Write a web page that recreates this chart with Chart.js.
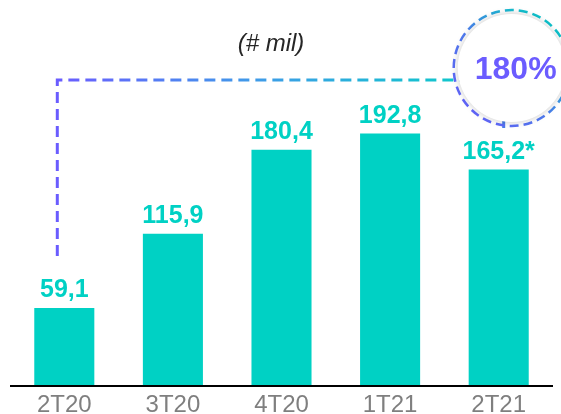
<!DOCTYPE html>
<html>
<head>
<meta charset="utf-8">
<script src="https://cdn.jsdelivr.net/npm/chart.js@4"></script>
<style>
  html, body { margin: 0; padding: 0; background: #fff; }
  #wrap { width: 561px; height: 414px; }
</style>
</head>
<body>
<div id="wrap"><canvas id="basesChart" width="561" height="414"></canvas></div>
<script>
const quarters = ['2T20', '3T20', '4T20', '1T21', '2T21'];
const bases = [59.1, 115.9, 180.4, 192.8, 165.2];
const notes = ['', '', '', '', '*'];
const unitLabel = '(# mil)';

const TEAL = '#00d1c4';
const PURPLE = '#6b5cff';
const FONT = 'Arial, "Liberation Sans", sans-serif';

function fmt(v) {
  return v.toFixed(1).replace('.', ',');
}

// growth between the first and last quarter, shown in the bubble
const growth = Math.round((bases[bases.length - 1] / bases[0] - 1) * 100);

const overlay = {
  id: 'overlay',
  afterDraw(chart) {
    const ctx = chart.ctx;
    const area = chart.chartArea;
    const bars = chart.getDatasetMeta(0).data;

    ctx.save();

    // base line
    ctx.strokeStyle = '#000';
    ctx.lineWidth = 2;
    ctx.beginPath();
    ctx.moveTo(area.left, area.bottom + 1);
    ctx.lineTo(area.right, area.bottom + 1);
    ctx.stroke();

    // value labels
    ctx.fillStyle = TEAL;
    ctx.font = 'bold 25px ' + FONT;
    ctx.textAlign = 'center';
    ctx.textBaseline = 'alphabetic';
    bars.forEach((b, i) => {
      ctx.fillText(fmt(bases[i]) + notes[i], b.x, b.y - 11);
    });

    // unit
    ctx.fillStyle = '#262626';
    ctx.font = 'italic 24px ' + FONT;
    ctx.textBaseline = 'middle';
    ctx.fillText(unitLabel, 271, 44);

    // dashed connector from the first bar to the growth bubble
    const x0 = bars[0].x - 7;
    const yTop = area.top + 21;
    const yBottom = bars[0].y - 52;
    const last = bars[bars.length - 1];
    const cx = last.x + 13;
    const cy = area.top + 9;
    const r = 58;

    const lineGrad = ctx.createLinearGradient(x0, 0, cx - r, 0);
    lineGrad.addColorStop(0, '#6a5cff');
    lineGrad.addColorStop(0.5, '#3f9be8');
    lineGrad.addColorStop(1, '#10c6cc');
    ctx.strokeStyle = lineGrad;
    ctx.lineWidth = 3;
    ctx.setLineDash([11, 6]);
    ctx.beginPath();
    ctx.moveTo(x0, yBottom);
    ctx.lineTo(x0, yTop);
    ctx.lineTo(cx, yTop);
    ctx.stroke();

    // short drop below the bubble
    ctx.strokeStyle = '#4a7fe8';
    ctx.beginPath();
    ctx.moveTo(cx - 8, cy);
    ctx.lineTo(cx - 8, cy + r + 2);
    ctx.stroke();

    // bubble outline
    const ringGrad = ctx.createLinearGradient(cx - r, cy + r, cx + r, cy - r);
    ringGrad.addColorStop(0, '#6a5cff');
    ringGrad.addColorStop(0.45, '#4f7cf0');
    ringGrad.addColorStop(0.75, '#17bdd0');
    ringGrad.addColorStop(1, '#00c8c4');
    ctx.strokeStyle = ringGrad;
    ctx.lineWidth = 2.5;
    ctx.setLineDash([9, 5]);
    ctx.beginPath();
    ctx.arc(cx, cy, r, 0, Math.PI * 2);
    ctx.stroke();
    ctx.setLineDash([]);

    // bubble body
    ctx.shadowColor = 'rgba(0,0,0,0.22)';
    ctx.shadowBlur = 7;
    ctx.fillStyle = '#fff';
    ctx.beginPath();
    ctx.arc(cx, cy, r - 4, 0, Math.PI * 2);
    ctx.fill();
    ctx.shadowBlur = 0;
    ctx.shadowColor = 'transparent';

    ctx.fillStyle = PURPLE;
    ctx.font = 'bold 32px ' + FONT;
    ctx.textBaseline = 'middle';
    ctx.fillText(growth + '%', cx + 4, cy + 2);

    ctx.restore();
  }
};

new Chart(document.getElementById('basesChart'), {
  type: 'bar',
  data: {
    labels: quarters,
    datasets: [{
      data: bases,
      backgroundColor: TEAL,
      borderWidth: 0,
      categoryPercentage: 1,
      barPercentage: 0.553
    }]
  },
  options: {
    responsive: false,
    animation: false,
    devicePixelRatio: 1,
    layout: { padding: { top: 59, left: 10, right: 8, bottom: 0 } },
    plugins: {
      legend: { display: false },
      tooltip: { enabled: false }
    },
    scales: {
      x: {
        grid: { display: false },
        border: { display: false },
        ticks: {
          color: '#7f7f7f',
          font: { family: FONT, size: 24 },
          padding: -2,
          maxRotation: 0
        },
        afterFit(scale) { scale.height = 29; }
      },
      y: {
        display: false,
        min: 0,
        max: 250
      }
    }
  },
  plugins: [overlay]
});
</script>
</body>
</html>
